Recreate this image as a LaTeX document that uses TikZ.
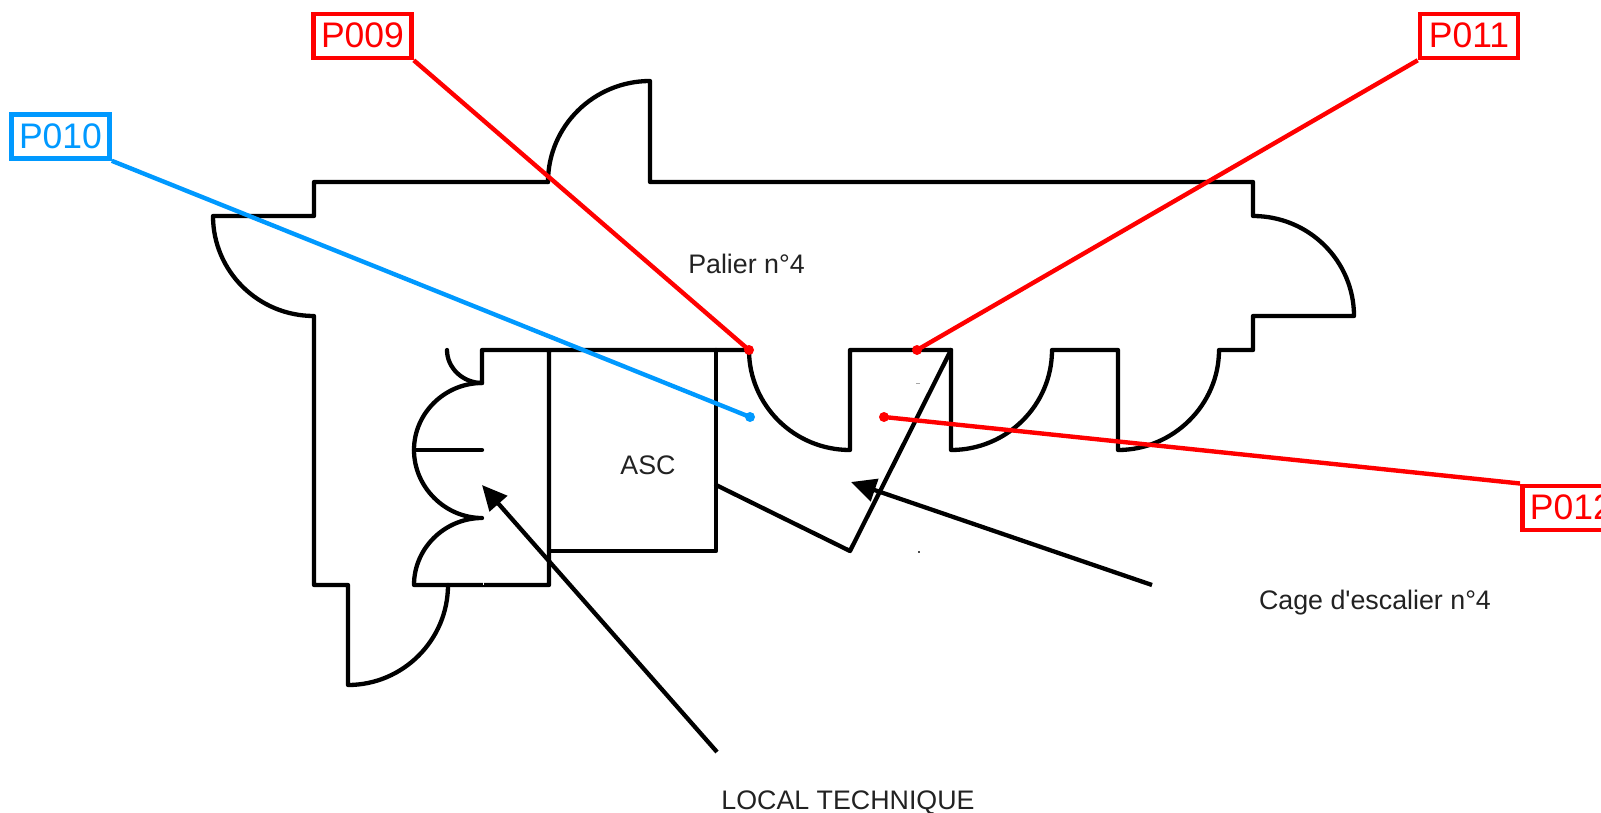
\documentclass[tikz,border=0pt]{standalone}
\usepackage{fontspec}
\setmainfont{Liberation Sans}
\usetikzlibrary{arrows.meta}
\definecolor{tagred}{HTML}{FF0000}
\definecolor{tagblue}{HTML}{0099FF}
\definecolor{labelink}{HTML}{222222}
\tikzset{
  x=1pt,y=-1pt,
  wall/.style={draw=black,line width=4.3pt,line join=round,line cap=round},
  pointer/.style={draw=black,line width=4.3pt,-{Triangle[length=25pt,width=23pt]}},
  tagbox/.style={draw=#1,text=#1,line width=4.6pt,fill=white,minimum width=98pt,minimum height=44pt,inner sep=0pt,font=\fontsize{35.5}{36}\selectfont},
  leader/.style={draw=#1,line width=4.4pt},
  pin/.style={circle,fill=#1,minimum size=10pt,inner sep=0pt},
  plainlabel/.style={text=labelink,inner sep=0pt,font=\fontsize{26.8}{30}\selectfont}
}
\newcommand{\tagtext}[1]{\raisebox{1.5pt}{#1}}
\begin{document}
\begin{tikzpicture}
\useasboundingbox (0,0) rectangle (1601,813);
% outer walls and doors
\path[wall] (548,182) .. controls (548,126) and (594,81) .. (650,81) -- (650,182) -- (1253,182) -- (1253,216)
  .. controls (1309,216) and (1354,261) .. (1354,316) -- (1253,316) -- (1253,350) -- (1219,350)
  .. controls (1219,405) and (1173,450) .. (1118,450) -- (1118,350) -- (1052,350)
  .. controls (1052,405) and (1007,450) .. (951,450) -- (951,350) -- (850,350) -- (850,450)
  .. controls (794,450) and (749,405) .. (749,350) -- (482,350) -- (482,383)
  .. controls (445,383) and (414,413) .. (414,450)
  .. controls (414,487) and (445,518) .. (482,518)
  .. controls (445,518) and (414,548) .. (414,585) -- (549,585) -- (549,350);
\path[wall] (447,350) .. controls (447,368) and (463,383) .. (482,383);
\path[wall] (414,450) -- (482,450);
\path[wall] (448,585) .. controls (448,640) and (403,685) .. (348,685) -- (348,585) -- (314,585) -- (314,316)
  .. controls (258,316) and (213,271) .. (213,216) -- (314,216) -- (314,182) -- (548,182);
% lift and stair
\path[wall] (549,551) -- (716,551) -- (716,350);
\path[wall] (716,485) -- (850,551) -- (951,350);
% specks of the original drawing
\fill[gray!70] (916,382.5) rectangle (920,383.5);
\fill[black!70] (918,551) rectangle (920,553);
\fill[white] (482.5,582) rectangle (484,584.5);
% labels
\node[plainlabel] (palier) at (746.5,264) {Palier n°4};
\node[plainlabel] (asc) at (648,465) {ASC};
\node[plainlabel] (cage) at (1375,603) {Cage d\textquotesingle escalier n°4};
\node[plainlabel] (local) at (848,803) {LOCAL TECHNIQUE};
% pointers
\coordinate (cagefrom) at (1152,585);
\coordinate (cageto) at (851,482);
\coordinate (localfrom) at (717,752);
\coordinate (localto) at (482,485);
\draw[pointer] (cagefrom) -- (cageto);
\draw[pointer] (localfrom) -- (localto);
% tags
\node[tagbox=tagred] (p009) at (362.5,36) {\tagtext{P009}};
\node[tagbox=tagblue] (p010) at (60.5,136.5) {\tagtext{P010}};
\node[tagbox=tagred] (p011) at (1469,36) {\tagtext{P011}};
\node[tagbox=tagred,anchor=north west] (p012) at (1520,483.5) {\tagtext{P012}};
\node[pin=tagred] (d009) at (749,350) {};
\node[pin=tagblue] (d010) at (750,417) {};
\node[pin=tagred] (d011) at (917,350) {};
\node[pin=tagred] (d012) at (884,417) {};
\draw[leader=tagred] (p009.south east) -- (d009.center);
\draw[leader=tagblue] (p010.south east) -- (d010.center);
\draw[leader=tagred] (p011.south west) -- (d011.center);
\draw[leader=tagred] (p012.north west) -- (d012.center);
\end{tikzpicture}
\end{document}
